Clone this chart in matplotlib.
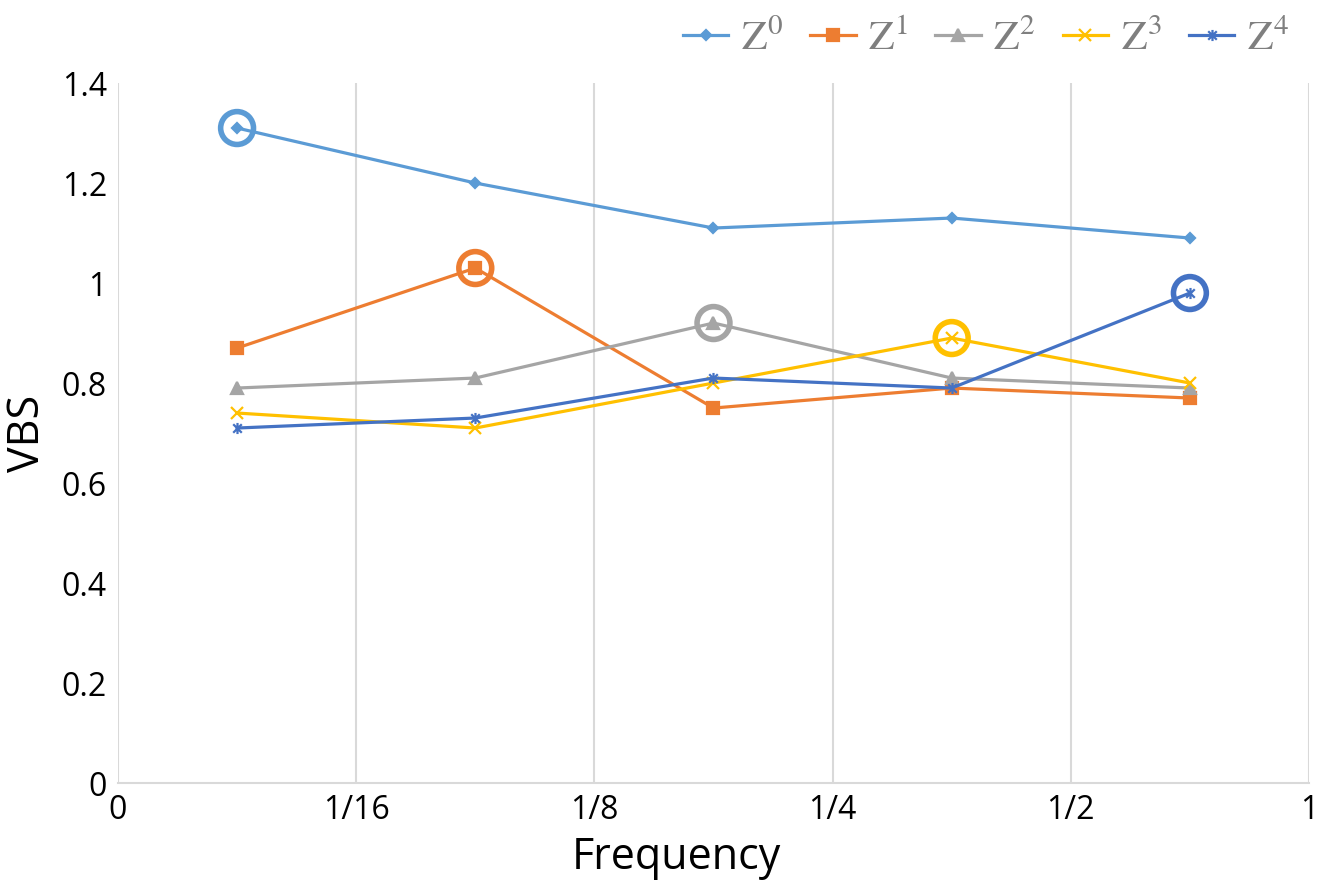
import matplotlib
matplotlib.use("Agg")
import matplotlib.pyplot as plt
from matplotlib.path import Path

# Data
freq_labels = ["0", "1/16", "1/8", "1/4", "1/2", "1"]
z0 = [1.31, 1.20, 1.11, 1.13, 1.09]
z1 = [0.87, 1.03, 0.75, 0.79, 0.77]
z2 = [0.79, 0.81, 0.92, 0.81, 0.79]
z3 = [0.74, 0.71, 0.80, 0.89, 0.80]
z4 = [0.71, 0.73, 0.81, 0.79, 0.98]
series_names = ["0", "1", "2", "3", "4"]

plt.rcParams["font.family"] = ["Open Sans", "DejaVu Sans"]
plt.rcParams["mathtext.fontset"] = "stix"

# Excel style asterisk: x with a vertical bar
asterisk = Path(
    [(-1, -1), (1, 1), (-1, 1), (1, -1), (0, -1.3), (0, 1.3)],
    [Path.MOVETO, Path.LINETO, Path.MOVETO, Path.LINETO, Path.MOVETO, Path.LINETO],
)

series = [z0, z1, z2, z3, z4]
colors = ["#5B9BD5", "#ED7D31", "#A5A5A5", "#FFC000", "#4472C4"]
markers = ["D", "s", "^", "x", asterisk]
msizes = [5, 8, 8, 8, 8]

fig = plt.figure(figsize=(13.33, 8.89), dpi=100)
ax = fig.add_axes([0.0885, 0.1192, 0.8935, 0.7874])

xpos = [i + 0.5 for i in range(len(z0))]

handles = []
for vals, col, mk, ms, name in zip(series, colors, markers, msizes, series_names):
    h, = ax.plot(xpos, vals, color=col, lw=2.3, marker=mk, markersize=ms,
                 markeredgewidth=1.6, markerfacecolor=col, markeredgecolor=col,
                 label=r"$\mathrm{Z}^{%s}$" % name)
    handles.append(h)

# highlight the maximum of each series with a ring
for i, (vals, col) in enumerate(zip(series, colors)):
    ax.scatter([xpos[i]], [vals[i]], s=560, facecolors="none", edgecolors=col,
               linewidths=4.0, zorder=5)

ax.set_xlim(0, 5)
ax.set_ylim(0, 1.4)
ax.set_xticks(range(len(freq_labels)))
ax.set_xticklabels(freq_labels)
ax.set_yticks([0, 0.2, 0.4, 0.6, 0.8, 1.0, 1.2, 1.4])
ax.set_yticklabels(["0", "0.2", "0.4", "0.6", "0.8", "1", "1.2", "1.4"])
ax.tick_params(labelsize=23, length=0, pad=8)

ax.grid(axis="x", color="#D9D9D9", lw=1.5)
ax.set_axisbelow(True)
for side in ["top", "right", "left"]:
    ax.spines[side].set_visible(False)
ax.spines["bottom"].set_color("#D9D9D9")
ax.spines["bottom"].set_linewidth(1.5)

ax.set_xlabel("Frequency", fontsize=31)
ax.xaxis.set_label_coords(0.469, -0.075)
ax.set_ylabel("VBS", fontsize=31, labelpad=8)

leg = fig.legend(handles=handles, loc="upper right", bbox_to_anchor=(0.995, 1.022),
                 ncol=5, frameon=False, fontsize=30, handlelength=1.1,
                 columnspacing=0.65, handletextpad=0.3)
for t in leg.get_texts():
    t.set_color("#7F7F7F")

fig.savefig("out.png", dpi=100)
